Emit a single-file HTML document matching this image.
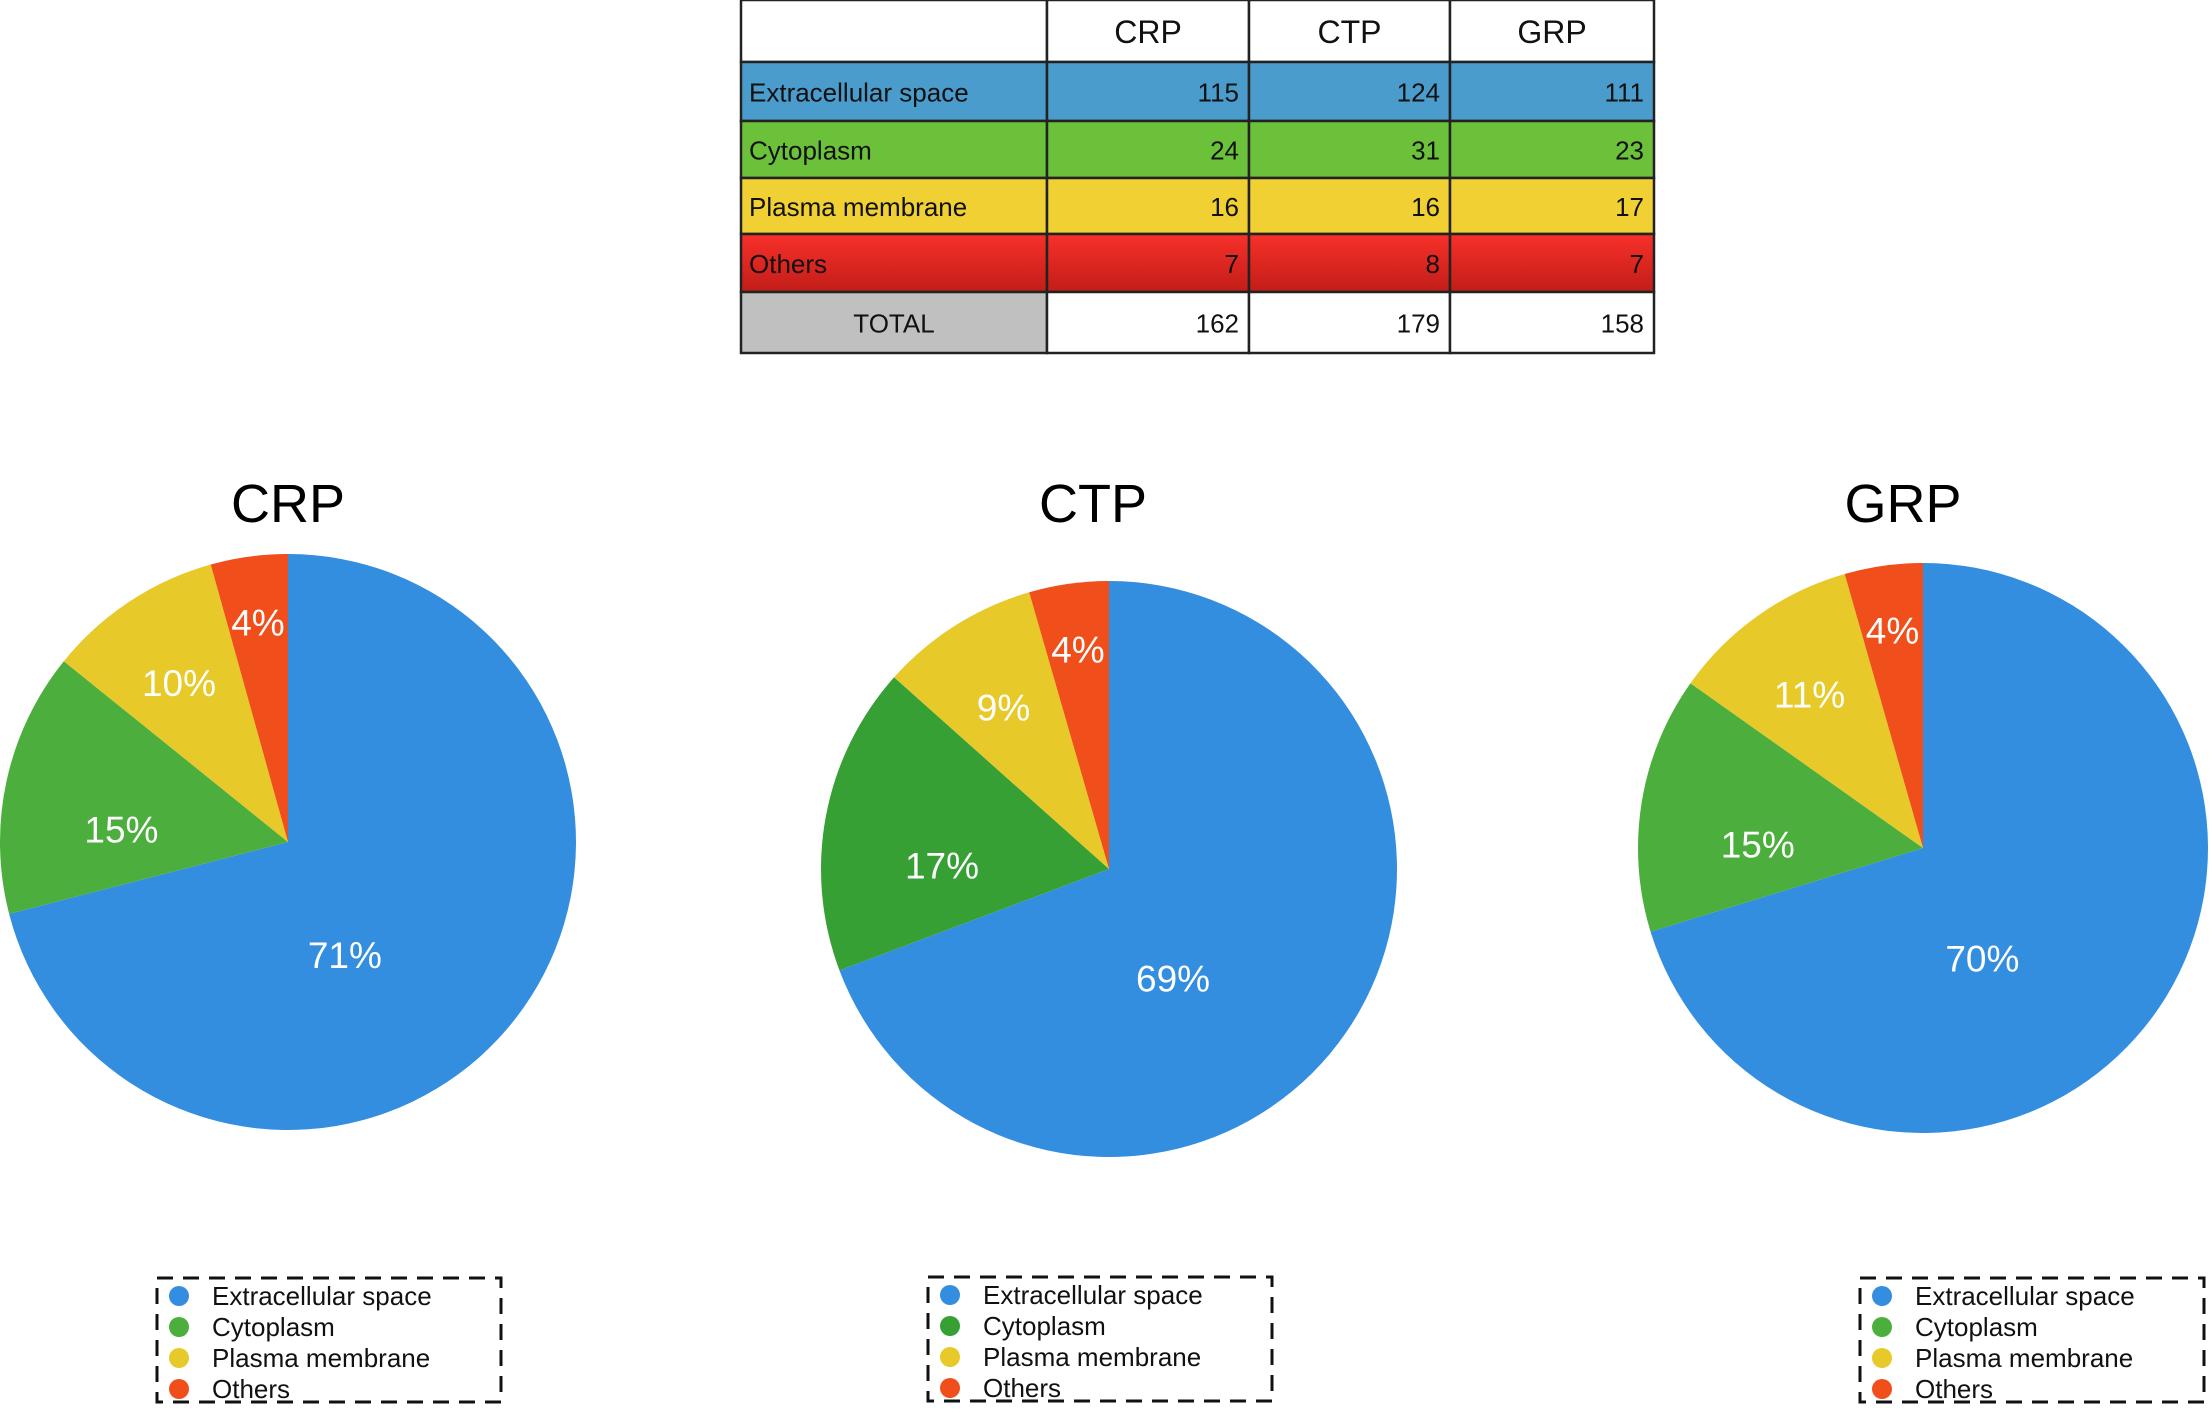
<!DOCTYPE html>
<html><head><meta charset="utf-8"><style>
body{margin:0;background:#fff;width:2212px;height:1407px;overflow:hidden;font-family:"Liberation Sans",sans-serif}
</style></head><body>
<svg id="chart" width="2212" height="1407" xmlns="http://www.w3.org/2000/svg" font-family="Liberation Sans, sans-serif">
<defs>
<linearGradient id="redg" x1="0" y1="0" x2="0" y2="1"><stop offset="0" stop-color="#f8302a"/><stop offset="1" stop-color="#c21d18"/></linearGradient>
</defs>
<g id="tbl"></g>
<g id="pies"></g>
</svg>
<script>
const groups = ["CRP","CTP","GRP"];
const categories = ["Extracellular space","Cytoplasm","Plasma membrane","Others"];
const crpValues = [115,24,16,7];
const ctpValues = [124,31,16,8];
const grpValues = [111,23,17,7];
const totals = [162,179,158];

const NS="http://www.w3.org/2000/svg";
function mk(tag,attrs,parent){const e=document.createElementNS(NS,tag);for(const k in attrs)e.setAttribute(k,attrs[k]);parent.appendChild(e);return e;}
const tbl=document.getElementById('tbl');
const colX=[741,1047,1249,1450,1654];
const rowY=[0,62,121,178,234,292,353];
const rowFill=["#fff","#4a9ccc","#6cc13a","#f0d032","url(#redg)","#fff"];
const series=[crpValues,ctpValues,grpValues];
for(let r=0;r<6;r++){
  for(let c=0;c<4;c++){
    let fill=rowFill[r];
    if(r===5&&c===0) fill="#c0c0c0";
    const rc=mk('rect',{x:colX[c],y:rowY[r],width:colX[c+1]-colX[c],height:rowY[r+1]-rowY[r],fill:fill,stroke:"#222","stroke-width":2.5},tbl);
    
    
    let txt=null,anchor='end',tx=colX[c+1]-10,size=26;
    const ty=(rowY[r]+rowY[r+1])/2+10;
    if(r===0&&c>0){txt=groups[c-1];anchor='middle';tx=(colX[c]+colX[c+1])/2;size=32;}
    else if(r>=1&&r<=4&&c===0){txt=categories[r-1];anchor='start';tx=colX[0]+8;}
    else if(r>=1&&r<=4){txt=series[c-1][r-1];}
    else if(r===5&&c===0){txt="TOTAL";anchor='middle';tx=(colX[0]+colX[1])/2;}
    else if(r===5){txt=totals[c-1];}
    if(txt!==null){
      const t=mk('text',{x:tx,y:ty+(r===0?2:0),'text-anchor':anchor,'font-size':size,fill:"#111"},tbl);
      t.textContent=txt;
      
      
    }
  }
}
const pies=document.getElementById('pies');
const centers=[[288,842,288],[1109,869,288],[1923,848,285]];
const titleX=[288,1093,1903];
const colorSets=[["#348ee0","#4cae3c","#e8c92a","#f04e1a"],["#348ee0","#36a035","#e8c92a","#f04e1a"],["#348ee0","#4cae3c","#e8c92a","#f04e1a"]];
const labelR=[0.44,0.58,0.67,0.77];
const labelF=[0.6,0.35,0.47,0.5];
const legendBoxes=[[157,1278],[928,1277],[1860,1278]];
groups.forEach((g,i)=>{
  const [cx,cy,r]=centers[i];
  const vals=series[i];const tot=vals.reduce((a,b)=>a+b,0);
  const title=mk('text',{x:titleX[i],y:522,'text-anchor':'middle','font-size':54,fill:'#000'},pies);
  title.textContent=g;
  
  
  let a0=0;
  vals.forEach((v,j)=>{
    const a1=a0+v/tot*2*Math.PI;
    const x0=cx+r*Math.sin(a0),y0=cy-r*Math.cos(a0),x1=cx+r*Math.sin(a1),y1=cy-r*Math.cos(a1);
    const large=(a1-a0)>Math.PI?1:0;
    const p=mk('path',{d:`M${cx},${cy}L${x0},${y0}A${r},${r} 0 ${large} 1 ${x1},${y1}Z`,fill:colorSets[i][j]},pies);
    
    
    const am=a0+labelF[j]*(a1-a0),lr=r*labelR[j];
    const t=mk('text',{x:cx+lr*Math.sin(am),y:cy-lr*Math.cos(am)+13,'text-anchor':'middle','font-size':37,fill:'#fff'},pies);
    t.textContent=Math.round(v/tot*100)+'%';
    
    
    a0=a1;
  });
  const [lx,ly]=legendBoxes[i];
  const box=mk('rect',{x:lx,y:ly,width:344,height:124,fill:'none',stroke:'#111','stroke-width':3,'stroke-dasharray':'16,10'},pies);
  
  
  categories.forEach((c,j)=>{
    const yy=ly+18+j*31;
    const d=mk('circle',{cx:lx+22,cy:yy,r:10,fill:colorSets[i][j]},pies);
    
    
    const t=mk('text',{x:lx+55,y:yy+9,'font-size':26,fill:'#111'},pies);
    t.textContent=c;
    
    
  });
});
</script>
</body></html>
